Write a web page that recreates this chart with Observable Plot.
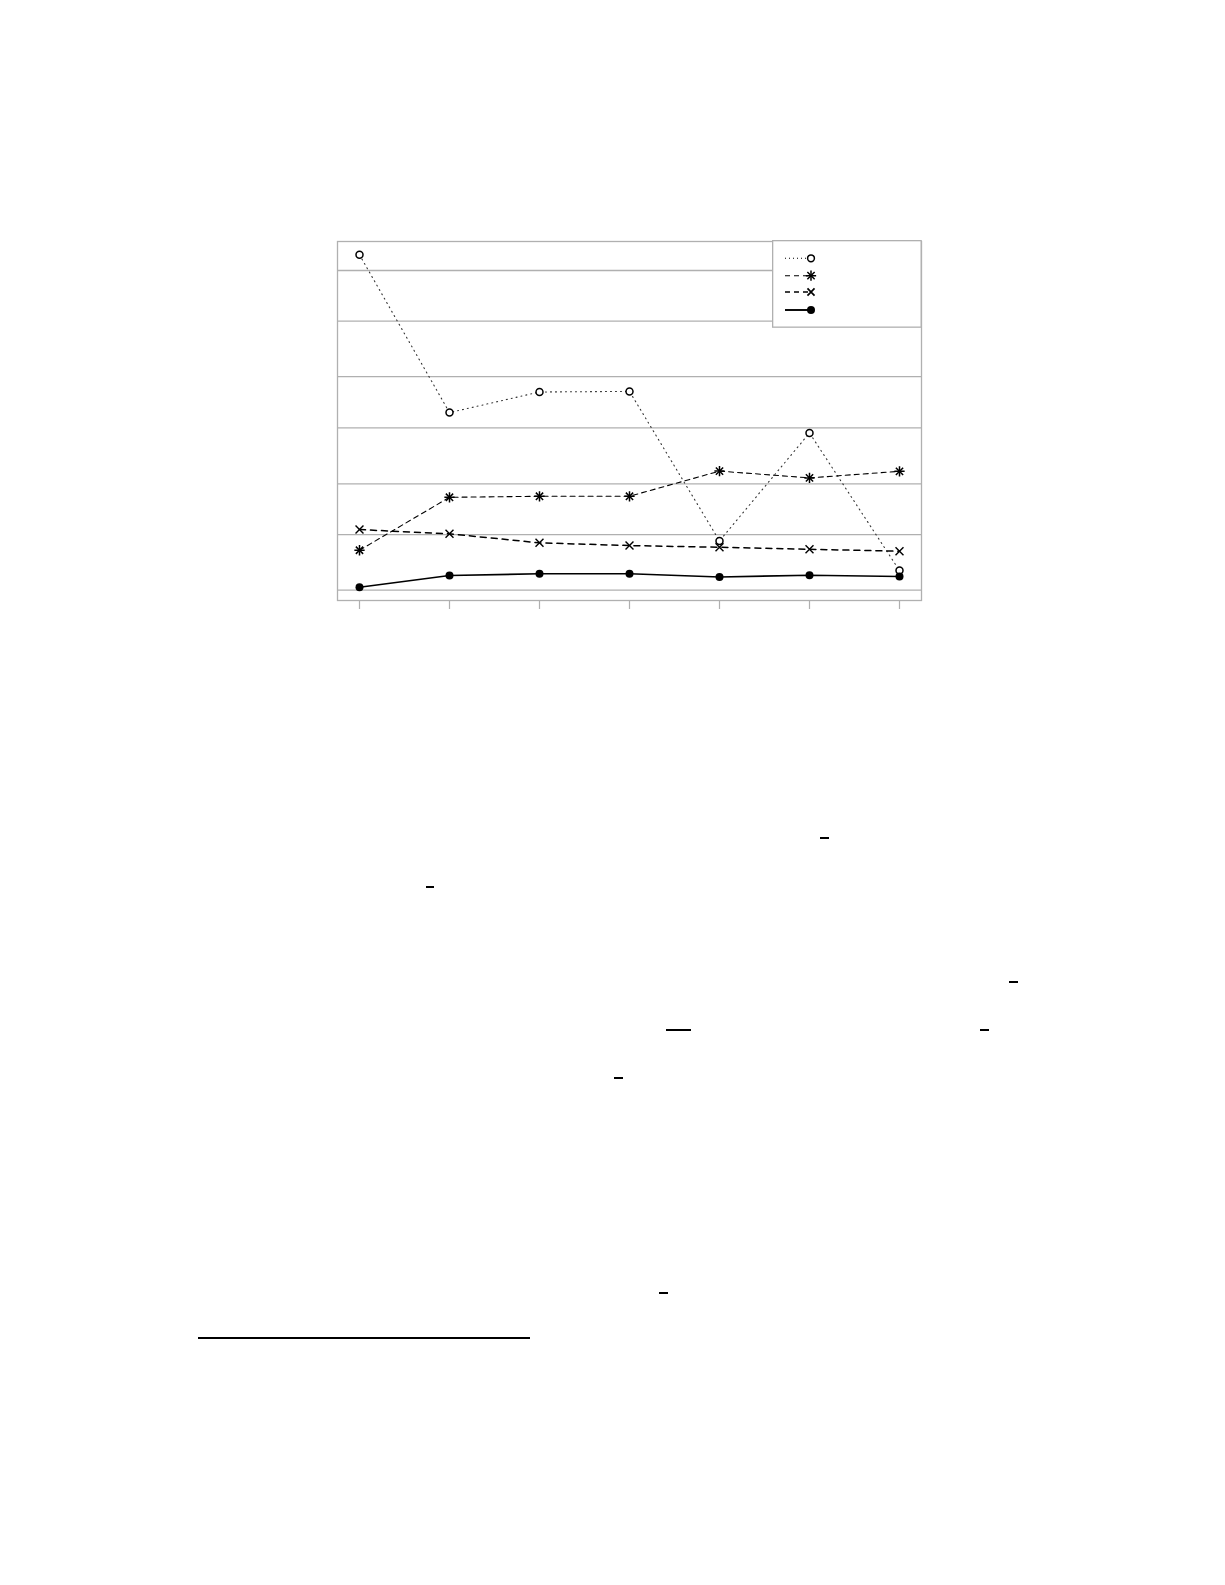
<!DOCTYPE html>
<html>
<head>
<meta charset="utf-8">
<script src="https://cdn.jsdelivr.net/npm/d3@7"></script>
<script src="https://cdn.jsdelivr.net/npm/@observablehq/plot@0.6"></script>
<style>
  html, body { margin: 0; padding: 0; background: #fff; }
  body { width: 1225px; height: 1585px; position: relative; overflow: hidden; font-family: "DejaVu Serif", serif; }
  #chart { position: absolute; left: 317px; top: 220px; }
  #legend { position: absolute; left: 772px; top: 240px; }
  .frag { position: absolute; background: #000; height: 2px; }
</style>
</head>
<body>
<div id="chart"></div>
<div id="legend"></div>
<div id="frags"></div>
<script>
// ---- data ----
const categories = [1, 2, 3, 4, 5, 6, 7];
const seriesA = [6.295, 3.333, 3.720, 3.731, 0.925, 2.951, 0.369]; // dotted, open circle
const seriesB = [0.750, 1.744, 1.763, 1.763, 2.235, 2.108, 2.231]; // thin dash, asterisk
const seriesC = [1.138, 1.058, 0.889, 0.838, 0.806, 0.769, 0.731]; // thick dash, cross
const seriesD = [0.056, 0.276, 0.308, 0.308, 0.248, 0.281, 0.257]; // solid, filled dot
const gridValues = [0, 1.044, 1.995, 3.045, 4.007, 5.051, 6.0];
const yDomain = [-0.193, 6.544];

const toRows = (vals) => categories.map((c, i) => ({x: c, y: vals[i]}));
const A = toRows(seriesA), B = toRows(seriesB), C = toRows(seriesC), D = toRows(seriesD);

const gridColor = "#b0b0b0";
const ink = "#000";

const chart = Plot.plot({
  width: 624,
  height: 400,
  marginLeft: 20,
  marginRight: 20,
  marginTop: 21,
  marginBottom: 20,
  x: {type: "point", domain: categories, padding: 0.2444, label: null},
  y: {domain: yDomain, axis: null, label: null},
  style: {background: "white", overflow: "visible"},
  marks: [
    Plot.ruleY(gridValues, {stroke: gridColor, strokeWidth: 1.3}),
    Plot.frame({stroke: gridColor, strokeWidth: 1.3}),
    Plot.axisX({tickSize: 9, tickFormat: () => "", stroke: gridColor, strokeWidth: 1.2, label: null}),
    Plot.line(A, {x: "x", y: "y", stroke: "#333", strokeWidth: 1.1, strokeDasharray: "1,4"}),
    Plot.line(B, {x: "x", y: "y", stroke: ink, strokeWidth: 1.1, strokeDasharray: "5,4"}),
    Plot.line(C, {x: "x", y: "y", stroke: ink, strokeWidth: 1.5, strokeDasharray: "6,5"}),
    Plot.line(D, {x: "x", y: "y", stroke: ink, strokeWidth: 1.6}),
    Plot.dot(A, {x: "x", y: "y", r: 3.5, stroke: ink, fill: "white", strokeWidth: 1.5}),
    Plot.dot(B, {x: "x", y: "y", r: 3.4, symbol: "plus", stroke: ink, strokeWidth: 1.5}),
    Plot.dot(B, {x: "x", y: "y", r: 3.4, symbol: "times", stroke: ink, strokeWidth: 1.5}),
    Plot.dot(C, {x: "x", y: "y", r: 3.7, symbol: "times", stroke: ink, strokeWidth: 1.4}),
    Plot.dot(D, {x: "x", y: "y", r: 4, fill: ink, stroke: "none"})
  ]
});
document.getElementById("chart").appendChild(chart);

// ---- legend box (no text in the reference) ----
const legendItems = [
  {dash: "1,3", width: 1.1, sym: ["circle-open"]},
  {dash: "5,4", width: 1.1, sym: ["plus", "times"]},
  {dash: "5,4", width: 1.7, sym: ["times-big"]},
  {dash: null, width: 1.9, sym: ["circle-filled"]}
];
const lsvg = d3.select("#legend").append("svg")
  .attr("width", 150).attr("height", 90);
lsvg.append("rect").attr("x", 0.65).attr("y", 0.65).attr("width", 148.5).attr("height", 86.5)
  .attr("fill", "white").attr("stroke", gridColor).attr("stroke-width", 1.3);
const rowY = [18.3, 35.7, 52, 70];
legendItems.forEach((it, i) => {
  const g = lsvg.append("g").attr("transform", `translate(0,${rowY[i]})`);
  g.append("line").attr("x1", 13).attr("x2", 39).attr("y1", 0).attr("y2", 0)
    .attr("stroke", ink).attr("stroke-width", it.width)
    .attr("stroke-dasharray", it.dash);
  it.sym.forEach(s => {
    const sg = g.append("g").attr("transform", "translate(39,0)");
    if (s === "circle-open") {
      sg.append("circle").attr("r", 3.4).attr("fill", "white").attr("stroke", ink).attr("stroke-width", 1.5);
    } else if (s === "circle-filled") {
      sg.append("circle").attr("r", 4).attr("fill", ink);
    } else {
      const type = s === "plus" ? d3.symbolPlus : d3.symbolTimes;
      const r = s === "times-big" ? 3.3 : 3.4;
      sg.append("path").attr("d", d3.symbol(type, r * r * Math.PI)())
        .attr("fill", "none").attr("stroke", ink).attr("stroke-width", s === "times-big" ? 1.7 : 1.5);
    }
  });
});

// ---- residual marks of the page below the figure ----
const fragX1 = [820, 426, 1009, 666, 980, 614, 659, 198];
const fragX2 = [829, 434, 1018, 691, 989, 623, 668, 530];
const fragY  = [837, 886, 981, 1029, 1029, 1077, 1292, 1337];
const fragsDiv = document.getElementById("frags");
fragX1.forEach((x1, i) => {
  const d = document.createElement("div");
  d.className = "frag";
  d.style.left = x1 + "px";
  d.style.top = fragY[i] + "px";
  d.style.width = (fragX2[i] - x1) + "px";
  fragsDiv.appendChild(d);
});
</script>
</body>
</html>
